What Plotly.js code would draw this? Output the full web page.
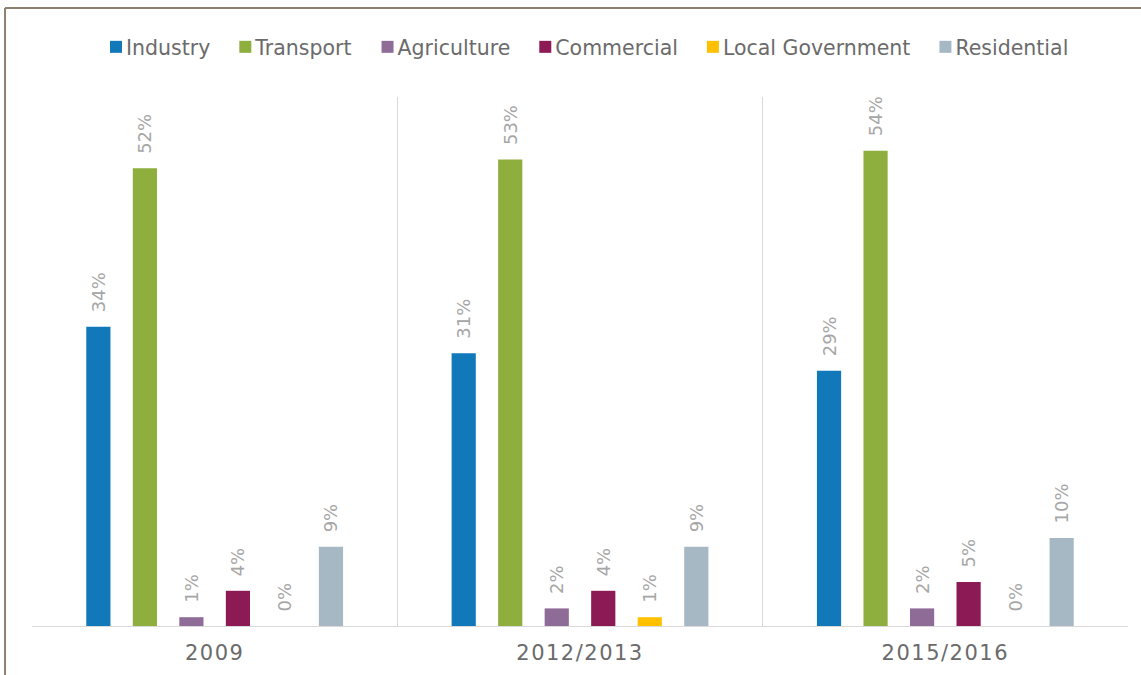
<!DOCTYPE html>
<html>
<head>
<meta charset="utf-8">
<script src="https://cdn.plot.ly/plotly-3.0.1.min.js"></script>
<style>
  html, body { margin: 0; padding: 0; background: #ffffff; }
  #chart { width: 1141px; height: 675px; }
  .xtick text { letter-spacing: 1.5px; }
  .legend .legendpoints { transform: translateX(10px); }
</style>
</head>
<body>
<div id="chart"></div>
<script>
const periods = ["2009", "2012/2013", "2015/2016"];
const sectors = ["Industry", "Transport", "Agriculture", "Commercial", "Local Government", "Residential"];
const industry = [34, 31, 29];
const transport = [52, 53, 54];
const agriculture = [1, 2, 2];
const commercial = [4, 4, 5];
const localGovernment = [0, 1, 0];
const residential = [9, 9, 10];
const colors = ["#1179BA", "#8EAE3E", "#8F6C98", "#8B1A55", "#FFC000", "#A6B8C4"];

const seriesValues = [industry, transport, agriculture, commercial, localGovernment, residential];
const FONT = "DejaVu Sans, sans-serif";
const PAD = "\u00a0\u00a0";

const traces = sectors.map((name, i) => ({
  type: "bar",
  name: name,
  x: periods,
  y: seriesValues[i],
  marker: { color: colors[i] },
  text: seriesValues[i].map(v => PAD + v + "%"),
  textposition: "outside",
  textangle: -90,
  constraintext: "none",
  cliponaxis: false,
  textfont: { family: FONT, size: 18, color: "#a6a6a6" },
  hoverinfo: "x+y+name"
}));

const layout = {
  width: 1141,
  height: 675,
  margin: { l: 32, r: 13, t: 97, b: 49 },
  paper_bgcolor: "#ffffff",
  plot_bgcolor: "#ffffff",
  barmode: "group",
  bargap: 0.236,
  bargroupgap: 0.48,
  font: { family: FONT, color: "#666666" },
  showlegend: true,
  legend: {
    orientation: "h",
    x: 0.5, xanchor: "center",
    y: 1.0945, yanchor: "middle",
    font: { family: FONT, size: 20.5, color: "#6b6b6b" },
    itemclick: false
  },
  xaxis: {
    type: "category",
    tickson: "boundaries",
    showgrid: true,
    gridcolor: "#d9d9d9",
    gridwidth: 1,
    showline: true,
    linecolor: "#d9d9d9",
    linewidth: 1,
    ticks: "",
    ticklabelstandoff: 8,
    tickfont: { family: FONT, size: 21, color: "#6b6b6b" },
    fixedrange: true
  },
  yaxis: {
    range: [0, 60.1],
    showgrid: false,
    zeroline: false,
    showticklabels: false,
    ticks: "",
    fixedrange: true
  },
  shapes: [
    { type: "line", xref: "paper", yref: "paper", x0: -0.0246, x1: -0.0246, y0: 1.1682, y1: -0.1, line: { color: "#8c8170", width: 2 } },
    { type: "line", xref: "paper", yref: "paper", x0: -0.0246, x1: 1.02, y0: 1.1682, y1: 1.1682, line: { color: "#8c8170", width: 2 } }
  ]
};

Plotly.newPlot("chart", traces, layout, { displayModeBar: false, responsive: false });
</script>
</body>
</html>
